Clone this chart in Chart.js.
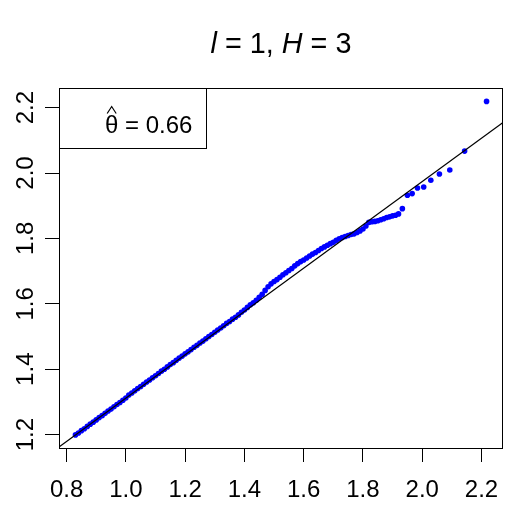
<!DOCTYPE html>
<html><head><meta charset="utf-8">
<script src="https://cdn.jsdelivr.net/npm/chart.js@4/dist/chart.umd.min.js"></script>
<style>html,body{margin:0;padding:0;background:#fff;overflow:hidden}</style>
</head><body>
<canvas id="c" width="509" height="509"></canvas>
<script>
// ---- data ----
const sampleX = [0.83,0.84,0.85,0.86,0.87,0.88,0.89,0.90,0.91,0.92,0.93,0.94,0.95,0.96,0.97,0.98,0.99,1.00,
1.01,1.02,1.03,1.04,1.05,1.06,1.07,1.08,1.09,1.10,1.11,1.12,1.13,1.14,1.15,1.16,1.17,1.18,1.19,1.20,
1.21,1.22,1.23,1.24,1.25,1.26,1.27,1.28,1.29,1.30,1.31,1.32,1.33,1.34,1.35,1.36,1.37,1.38,1.39,1.40,
1.41,1.42,1.43,1.44,1.45,1.46,1.47,1.48,1.49,1.50,1.51,1.52,1.53,1.54,1.55,1.56,1.57,1.58,1.59,1.60,
1.61,1.62,1.63,1.64,1.65,1.66,1.67,1.68,1.69,1.70,1.71,1.72,1.73,1.74,1.75,1.76,1.77,1.78,1.79,1.80,
1.81,1.82,1.83,1.84,1.85,1.86,1.87,1.88,1.89,1.90,1.91,1.92,
1.933,1.950,1.966,1.984,2.005,2.029,2.058,2.093,2.143,2.217];
const sampleY = [1.199,1.205,1.212,1.218,1.225,1.232,1.238,1.245,1.252,1.258,1.265,1.272,1.278,1.285,1.292,1.298,1.305,1.312,
1.321,1.327,1.334,1.341,1.347,1.354,1.361,1.367,1.374,1.380,1.387,1.394,1.400,1.407,1.414,1.420,1.427,1.434,1.440,1.447,
1.453,1.460,1.467,1.473,1.480,1.486,1.493,1.500,1.506,1.513,1.520,1.526,1.533,1.540,1.546,1.553,1.559,1.566,1.574,1.581,
1.589,1.597,1.603,1.611,1.620,1.629,1.641,1.652,1.661,1.668,1.674,1.681,1.689,1.695,1.702,1.708,1.716,1.723,1.729,1.734,
1.740,1.746,1.752,1.757,1.763,1.769,1.774,1.779,1.784,1.788,1.794,1.799,1.803,1.806,1.809,1.812,1.814,1.818,1.823,1.829,
1.838,1.849,1.851,1.852,1.854,1.857,1.860,1.864,1.866,1.869,1.871,1.875,
1.891,1.932,1.937,1.954,1.957,1.978,1.997,2.009,2.067,2.219];
const xTicks = [0.8,1.0,1.2,1.4,1.6,1.8,2.0,2.2];
const yTicks = [1.2,1.4,1.6,1.8,2.0,2.2];
const refIntercept = 0.6484;
const refSlope = 0.6628;
const thetaHat = "0.66";
const xRange = [0.7745, 2.2725];
const yRange = [1.159, 2.26];

const FONT = '"Liberation Sans", Arial, Helvetica, sans-serif';

const points = sampleX.map((x,i)=>({x:x, y:sampleY[i]}));
const refLine = xRange.map(x=>({x:x, y:refIntercept + refSlope*x}));

const decor = {
  id:'decor',
  afterDraw(chart){
    const ctx = chart.ctx, a = chart.chartArea, ys = chart.scales.y;
    ctx.save();
    // box
    ctx.strokeStyle = '#000'; ctx.lineWidth = 1;
    ctx.strokeRect(Math.round(a.left)+0.5, Math.round(a.top)+0.5, Math.round(a.right-a.left)-1, Math.round(a.bottom-a.top));
    // y labels rotated
    ctx.fillStyle = '#000';
    ctx.font = '24px ' + FONT;
    ctx.textAlign = 'center'; ctx.textBaseline = 'alphabetic';
    yTicks.forEach(v=>{
      const py = ys.getPixelForValue(v);
      ctx.save(); ctx.translate(33, py); ctx.rotate(-Math.PI/2);
      ctx.fillText(v.toFixed(1), 0, 0); ctx.restore();
    });
    // title
    const parts = [['l',true],[' = 1, ',false],['H',true],[' = 3',false]];
    const fs = 28.8;
    let w = 0;
    parts.forEach(p=>{ ctx.font = (p[1]?'italic ':'') + fs + 'px ' + FONT; w += ctx.measureText(p[0]).width; });
    let tx = (a.left + a.right)/2 - w/2;
    ctx.textAlign = 'left';
    parts.forEach(p=>{ ctx.font = (p[1]?'italic ':'') + fs + 'px ' + FONT; ctx.fillText(p[0], tx, 53); tx += ctx.measureText(p[0]).width; });
    // legend box
    const lx0 = Math.round(a.left)+0.5, ly0 = Math.round(a.top)+0.5;
    ctx.fillStyle = '#fff';
    ctx.fillRect(lx0, ly0, 206.5-lx0, 148.5-ly0);
    ctx.strokeRect(lx0, ly0, 206.5-lx0, 148.5-ly0);
    ctx.fillStyle = '#000';
    ctx.font = '24px ' + FONT;
    ctx.fillText('\u03B8', 105, 133.3);
    const tw = ctx.measureText('\u03B8').width;
    ctx.fillText(' = ' + thetaHat, 105 + tw, 133.3);
    // hat over theta
    const cx = 105 + tw/2;
    ctx.beginPath(); ctx.lineWidth = 1.2;
    ctx.moveTo(cx-4.5, 113.5); ctx.lineTo(cx, 106.5); ctx.lineTo(cx+4.5, 113.5);
    ctx.stroke();
    ctx.restore();
  }
};

new Chart(document.getElementById('c'), {
  type:'scatter',
  data:{datasets:[
    {type:'line', data:refLine, borderColor:'#000', borderWidth:1.2, pointRadius:0, fill:false},
    {type:'scatter', data:points, backgroundColor:'#0000ff', borderWidth:0, pointRadius:2.8, pointHoverRadius:2.8}
  ]},
  options:{
    responsive:false, animation:false, devicePixelRatio:1,
    layout:{padding:{top:88, right:6, left:0, bottom:0}},
    plugins:{legend:{display:false}, title:{display:false}, tooltip:{enabled:false}},
    events:[],
    scales:{
      x:{type:'linear', min:xRange[0], max:xRange[1],
        afterBuildTicks(s){ s.ticks = xTicks.map(v=>({value:v})); },
        afterFit(s){ s.height = 61; s.paddingLeft = 0; s.paddingRight = 0; },
        border:{display:false},
        grid:{drawOnChartArea:false, drawTicks:true, tickLength:14, color:'#000', lineWidth:1},
        ticks:{color:'#000', font:{family:FONT, size:24}, padding:14, maxRotation:0, autoSkip:false,
          callback:v=>Number(v).toFixed(1)}
      },
      y:{type:'linear', min:yRange[0], max:yRange[1],
        afterBuildTicks(s){ s.ticks = yTicks.map(v=>({value:v})); },
        afterFit(s){ s.width = 59; s.paddingTop = 0; s.paddingBottom = 0; },
        border:{display:false},
        grid:{drawOnChartArea:false, drawTicks:true, tickLength:14, color:'#000', lineWidth:1},
        ticks:{display:false}
      }
    }
  },
  plugins:[decor]
});
</script>
</body></html>
